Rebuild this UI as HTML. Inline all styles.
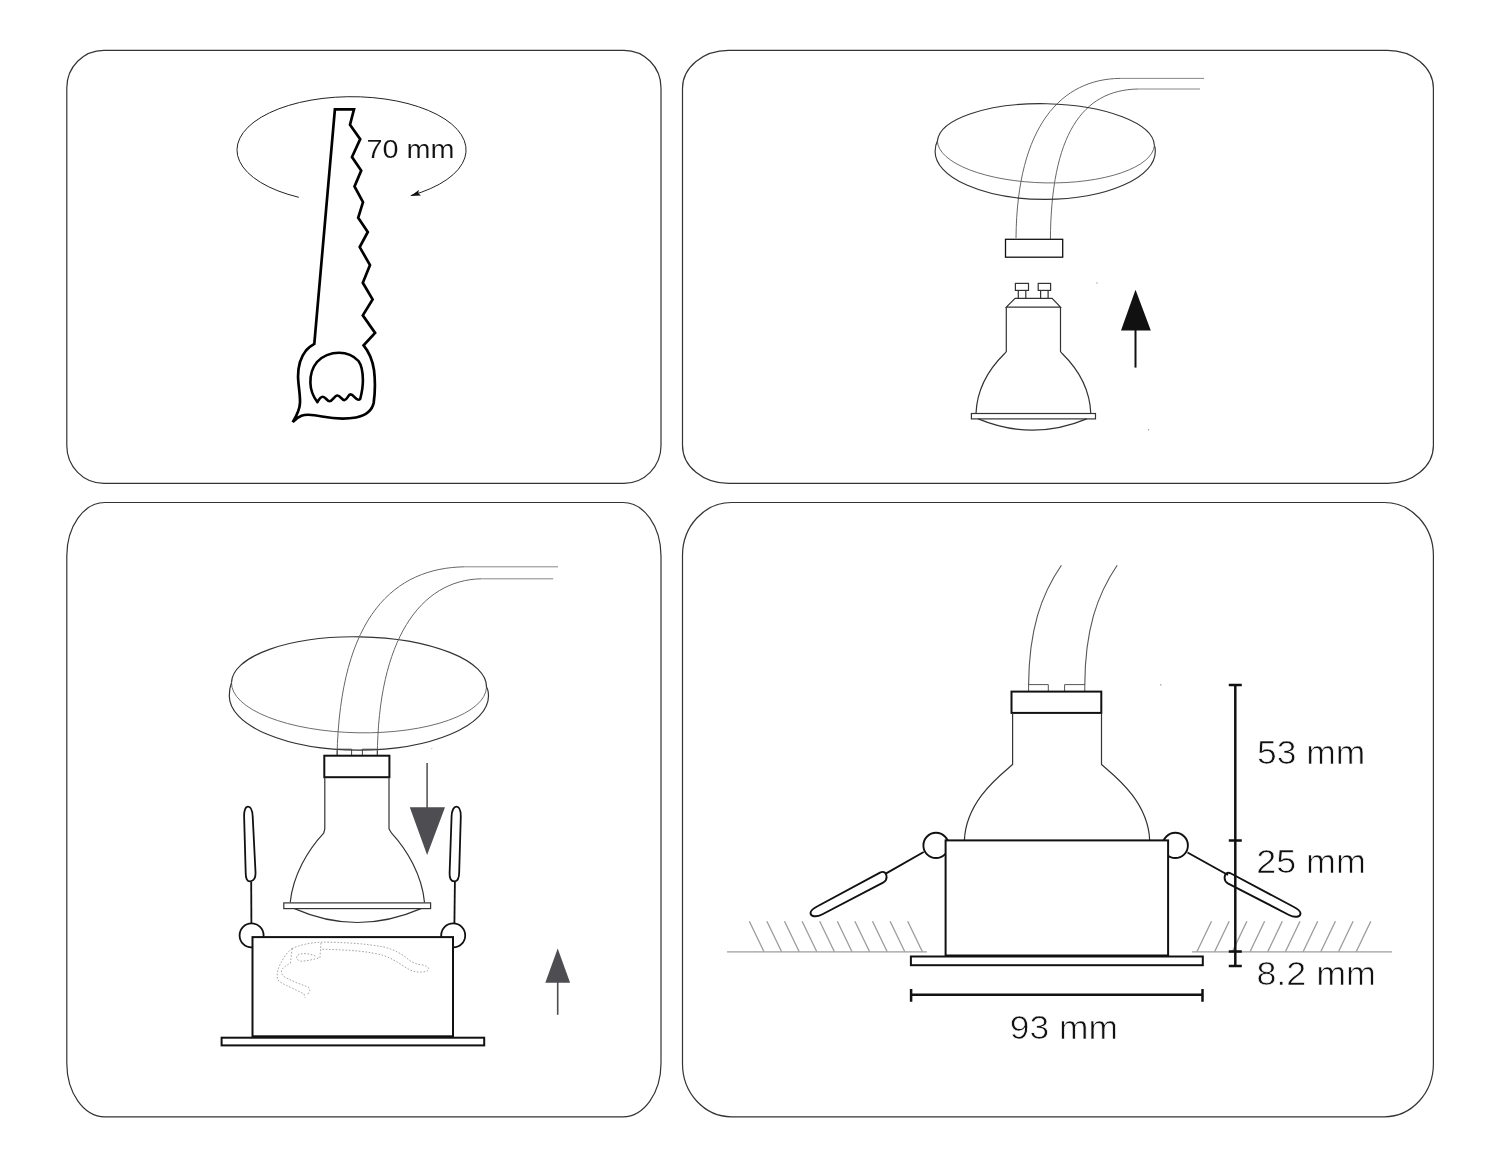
<!DOCTYPE html>
<html><head><meta charset="utf-8"><title>Installation</title>
<style>
html,body{margin:0;padding:0;background:#fff;width:1500px;height:1167px;overflow:hidden}
svg{display:block;will-change:transform}
text{font-family:"Liberation Sans",sans-serif;fill:#111;stroke:#fff;stroke-width:0.7px}
</style></head><body>
<svg width="1500" height="1167" viewBox="0 0 1500 1167">
<g fill="none" stroke="#333" stroke-width="1.2">
<rect x="66.8" y="50.3" width="594.2" height="433" rx="37" ry="37.5"/>
<rect x="682.5" y="50.3" width="750.9" height="433.1" rx="46" ry="38"/>
<rect x="66.8" y="502.5" width="594.2" height="614.3" rx="38" ry="53.5"/>
<rect x="682.5" y="502.5" width="750.9" height="614.3" rx="49" ry="53"/>
</g>

<!-- PANEL 1 -->
<g id="p1">
<path d="M298.8,197.3 A114.55,53.3 0 1 1 410.8,195.6" fill="none" stroke="#222" stroke-width="1"/>
<path d="M410.5,195.9 L418.9,190 L418.2,193.3 L421,195.6 Z" fill="#111"/>
<path fill="none" stroke="#000" stroke-width="2.7" stroke-linejoin="miter" stroke-miterlimit="10"
 d="M314.3,343.9 L334.9,109.3 L354,109.3 L350,124.7 L360.2,139.1 L352,157 L361.2,170.6 L354.5,186.4 L363,202.2 L358.2,217.7 L367.8,232 L359.7,247.1 L370,265.1 L362.8,282.8 L372.6,299.4 L362.8,315.4 L375.1,332.9 L363.6,345.4
 C369,352 372.5,360 374,370 C375.2,380 375.2,392 373.7,402.8 C372,411 366,415.5 356,417.5 C346,419.3 334,418.8 322,416.5 C314,414.8 307,413.6 301.5,415.7 C298,417 295,419.5 292.7,422.1
 C296.5,416 299.8,410 300,402.8 C300.3,395 298.5,387 298.1,378.2 C297.8,368 300,358 306,350.5 C309,347 311.5,345.5 314.3,343.9 Z"/>
<path fill="none" stroke="#000" stroke-width="2.6" stroke-linejoin="round"
 d="M317.4,402.1 C319,399 320.5,396.7 322.8,396.7 C325.5,396.7 327,401.3 329.7,401.3 C332.5,401.3 334.5,395.5 337.4,395.5 C340.5,395.5 341.5,400.1 344.4,400.1 C347.3,400.1 348,394.4 350.5,394.4 C353.5,394.4 355.5,399.8 358.2,399.8 C359.2,399.8 359.8,399.5 360.2,399
 C361.5,394 363,388 362.9,380 C362.8,372 361.5,365 358.5,361 C354,356 347,352.7 339,352.7 C331,352.7 322,356 317,362 C312,368 310.2,376 310.4,383 C310.6,391 313.5,397 317.4,402.1 Z"/>
<text x="366.6" y="158" font-size="26" textLength="88" lengthAdjust="spacingAndGlyphs" style="stroke-width:0.15px">70 mm</text>
</g>

<!-- PANEL 2 -->
<g id="p2">
<path d="M1120,78.4 L1204,78.4" stroke="#888" stroke-width="1" fill="none"/>
<path d="M1138,89 L1200,89" stroke="#888" stroke-width="1" fill="none"/>
<path d="M1120,78.4 C1062,79 1017,125 1016,238" stroke="#666" stroke-width="1" fill="none"/>
<path d="M1138,89 C1082,90 1051,135 1050.4,240" stroke="#666" stroke-width="1" fill="none"/>
<path d="M937.4,141.1 A108.55,40.5 1.16 0 1 1154.4,145.5" fill="none" stroke="#333" stroke-width="1.15"/>
<path d="M937.4,141.1 A108.55,40.5 1.16 0 0 1154.4,145.5" fill="none" stroke="#666" stroke-width="0.95"/>
<path d="M937.4,141.1 Q935.2,145 935.1,151.4 A110.1,48 0 0 0 1155.3,151.4 Q1155.2,147 1154.4,145.5" fill="none" stroke="#333" stroke-width="1.15"/>
<rect x="1005.5" y="239.3" width="57.2" height="17.9" fill="#fff" stroke="#111" stroke-width="1.3"/>
<g fill="none" stroke="#333" stroke-width="1.2">
<rect x="1015.4" y="283.4" width="13.1" height="7"/>
<rect x="1038.2" y="283.4" width="12.4" height="7"/>
<path d="M1018.3,290.4 V298.4 M1025.8,290.4 V298.4 M1040.6,290.4 V298.4 M1048.1,290.4 V298.4"/>
<path d="M1015.1,298.4 L1052.1,298.4 L1060.5,307.1 L1006.3,307.1 Z"/>
<path d="M1006.3,307.1 L1006.3,351.6 L1004.4,353.8 C990,368 977,388 976,413.5"/>
<path d="M1060.5,307.1 L1060.5,351.6 L1062.4,353.8 C1076.8,368 1089.8,388 1090.8,413.5"/>
<rect x="971.4" y="413.5" width="124.1" height="5.4"/>
<path d="M978.2,418.9 Q1032.8,441.5 1086.7,418.9"/>
</g>
<polygon points="1135.5,289.7 1121,330.5 1150.8,330.5" fill="#111"/>
<path d="M1135.5,330 V367.6" stroke="#111" stroke-width="2"/>
<circle cx="1097" cy="283" r="0.7" fill="#999"/>
<circle cx="1148.6" cy="429.8" r="0.7" fill="#999"/>
</g>

<!-- PANEL 3 -->
<g id="p3">
<path d="M464.4,566.8 L558,566.8" stroke="#888" stroke-width="1" fill="none"/>
<path d="M481.2,578.8 L553.2,578.8" stroke="#888" stroke-width="1" fill="none"/>
<path d="M231.5,682.6 A127.5,48 0.97 0 1 486.5,687.0" fill="none" stroke="#333" stroke-width="1.2"/>
<path d="M231.5,682.6 A127.5,48 0.97 0 0 486.5,687.0" fill="none" stroke="#666" stroke-width="0.95"/>
<path d="M231.5,682.6 Q229.4,688 229.3,696 A129.6,54.2 0 0 0 488.5,696 Q488.4,690 486.5,687.0" fill="none" stroke="#333" stroke-width="1.2"/>
<path d="M464.4,566.8 C395,568 340,615 337,756.4" stroke="#666" stroke-width="1" fill="none"/>
<path d="M481.2,578.8 C420,580 378,640 377.3,756.4" stroke="#666" stroke-width="1" fill="none"/>
<g fill="none" stroke="#444" stroke-width="1">
<path d="M337.2,756.4 V749.2 H351.6 V756.4 M362.4,756.4 V749.2 H377.3 V756.4"/>
</g>
<rect x="324.3" y="755.7" width="65.1" height="21.5" fill="#fff" stroke="#111" stroke-width="2"/>
<g fill="none" stroke="#333" stroke-width="1.2">
<path d="M324.8,777.2 L324.8,828.9 L323.7,833.2 C308,850 293,875 290.2,902.5"/>
<path d="M389,777.2 L389,828.9 L391.6,833.2 C407,850 422,875 424.5,902.5"/>
<rect x="283.8" y="902.9" width="146.8" height="5.7"/>
<path d="M294.5,908.6 Q357,936.4 421,908.6"/>
</g>
<path d="M427.1,763 V808" stroke="#4d4d52" stroke-width="1.5"/>
<polygon points="409.8,807.2 445,807.2 427.1,854.9" fill="#4d4d52"/>
<g fill="none" stroke="#111" stroke-width="1.8">
<path d="M248,806.6 C250.8,806.6 252.4,810.5 252.7,816.5 L255.5,872 C255.8,877.5 254,881.2 250.3,881.4 C247,881.5 245.7,878.5 245.7,873 L244.1,816 C244,810.5 245.5,806.6 248,806.6 Z"/>
<path d="M251.2,881.7 L251.4,923.5"/>
<path d="M456.4,806.6 C459,806.6 460.8,810.5 460.8,816.5 L459.2,872 C459.2,877.5 457.8,881.2 454.5,881.4 C451,881.5 449.4,878.5 449.6,873 L451.6,816 C451.8,810.5 453.8,806.6 456.4,806.6 Z"/>
<path d="M454.9,881.7 L454.4,923.5"/>
<circle cx="251.6" cy="935.4" r="12"/>
<circle cx="453.2" cy="935.4" r="12"/>
</g>
<rect x="252.5" y="937.1" width="200.5" height="99.2" fill="#fff" stroke="#111" stroke-width="2"/>
<rect x="221.6" y="1037.7" width="262.6" height="7.7" fill="#fff" stroke="#111" stroke-width="2"/>
<g fill="none" stroke="#9a9a9a" stroke-width="0.9" stroke-dasharray="1.6 1.7">
<path d="M292.1,948.6 C298,945.5 310,942.5 321,942.2 C340,942 365,943.5 383.3,946.9 C395,949.5 403,955 408.3,959.4 C412,962.5 417,964.5 423,965 C428,966 431,969.5 426.4,971.3 C421,973 413,972 408.3,969 C402,965.5 395,959.5 383.3,955.4 C370,951.5 350,949.8 321,949.2"/>
<path d="M292.1,948.6 C288,951 284,957 281.3,962.2 C278,968 276.5,974 277.4,979.2 C278.5,981.5 283,984 292.7,988.3 L304,993.9 L305.1,997.9"/>
<path d="M292.1,948.6 L290.4,963.3 C286,965.5 283,968 282.5,969 C280.5,971.5 281,974.5 284.7,976.9 C289,979.5 292,980.5 296.1,982.6 L308.5,987.1 L309.7,990.5 L307.4,995.1"/>
<path d="M321,942.9 L319.9,957.7 C315,959 305,961.5 300.6,961.1 C296,960 295,956 299.5,954.3 C303,953 310,953.5 315.3,956"/>
</g>
<polygon points="557.7,948.4 545.3,982.7 570.1,982.7" fill="#4d4d52"/>
<path d="M557.7,982 V1014.8" stroke="#4d4d52" stroke-width="1.6"/>
</g>

<!-- PANEL 4 -->
<g id="p4">
<path d="M1061.4,565.3 C1041,595 1029,630 1028.6,685" stroke="#555" stroke-width="1.1" fill="none"/>
<path d="M1117.2,565.3 C1097,595 1085,630 1084.8,685" stroke="#555" stroke-width="1.1" fill="none"/>
<g fill="none" stroke="#555" stroke-width="1">
<path d="M1028.6,692.2 V684.6 H1048.3 V692.2 M1064.6,692.2 V684.6 H1084.8 V692.2"/>
</g>
<rect x="1011.5" y="691.6" width="89.8" height="21.3" fill="#fff" stroke="#111" stroke-width="2"/>
<g fill="none" stroke="#333" stroke-width="1.2">
<path d="M1012.6,712.9 V764.5 C1002,774 966,800 964.4,840.4"/>
<path d="M1101.5,712.9 V764.5 C1112.1,774 1148.1,800 1149.7,840.4"/>
</g>
<g stroke="#9e9e9e" stroke-width="1.35" fill="none">
<path d="M727,951.8 H926.8 M1192,951.8 H1392"/>
<path d="M749.3,921.3 L764,951.8 M766.9,921.3 L781.6,951.8 M784.5,921.3 L799.2,951.8 M802.1,921.3 L816.8,951.8 M819.7,921.3 L834.4,951.8 M837.3,921.3 L852,951.8 M854.9,921.3 L869.6,951.8 M872.5,921.3 L887.2,951.8 M890.1,921.3 L904.8,951.8 M907.7,921.3 L922.4,951.8"/>
<path d="M1211.5,921.3 L1196.9,951.8 M1229.2,921.3 L1214.6,951.8 M1246.9,921.3 L1232.3,951.8 M1264.6,921.3 L1250,951.8 M1282.3,921.3 L1267.7,951.8 M1300,921.3 L1285.4,951.8 M1317.7,921.3 L1303.1,951.8 M1335.4,921.3 L1320.8,951.8 M1353.1,921.3 L1338.5,951.8 M1370.8,921.3 L1356.2,951.8"/>
</g>
<g fill="none" stroke="#111" stroke-width="1.9">
<circle cx="936" cy="845.4" r="12.6"/>
<circle cx="1175.3" cy="845.4" r="12.6"/>
<path d="M923.7,852 L885.3,873.9"/>
<path d="M1187.5,852.5 L1228,875"/>
<path d="M880,872.6 C884,870.6 886.5,873 886.6,877 C886.7,880 885,881.4 883.5,882.3 L822,914.5 C816,917.5 810.5,916.5 810.5,913 C810.5,910 814,908 818,906 Z"/>
<path d="M1231,873.5 C1227,871.5 1224.5,874 1224.6,878 C1224.7,881 1226.2,882.4 1227.8,883.3 L1289,915 C1295,918 1300.5,917 1300.5,913.5 C1300.5,910.5 1297,908.5 1293,906.5 Z"/>
</g>
<rect x="945.6" y="840.4" width="222.5" height="115.1" fill="#fff" stroke="#111" stroke-width="2"/>
<rect x="910.9" y="956.5" width="291.9" height="8.7" fill="#fff" stroke="#111" stroke-width="2"/>
<g stroke="#111" stroke-width="2.5" fill="none">
<path d="M1235.3,685.1 V965.9"/>
<path d="M1228.8,685.1 H1241.8 M1228.8,840.5 H1241.8 M1228.8,951.6 H1241.8 M1228.8,965.9 H1241.8"/>
<path d="M911.1,994.8 H1202.5 M911.1,988.9 V1001.7 M1202.5,988.9 V1001.7"/>
</g>
<circle cx="1160.8" cy="684.9" r="0.8" fill="#aaa"/>
<circle cx="431.8" cy="748.6" r="0.7" fill="#bbb"/>
<text x="1257" y="763.5" font-size="33.7" textLength="108.4" lengthAdjust="spacingAndGlyphs">53 mm</text>
<text x="1256.2" y="873" font-size="33.7" textLength="109.8" lengthAdjust="spacingAndGlyphs">25 mm</text>
<text x="1256.4" y="984.7" font-size="33.7" textLength="119.6" lengthAdjust="spacingAndGlyphs">8.2 mm</text>
<text x="1009.8" y="1039" font-size="33.7" textLength="108.2" lengthAdjust="spacingAndGlyphs">93 mm</text>
</g>

</svg>
</body></html>
